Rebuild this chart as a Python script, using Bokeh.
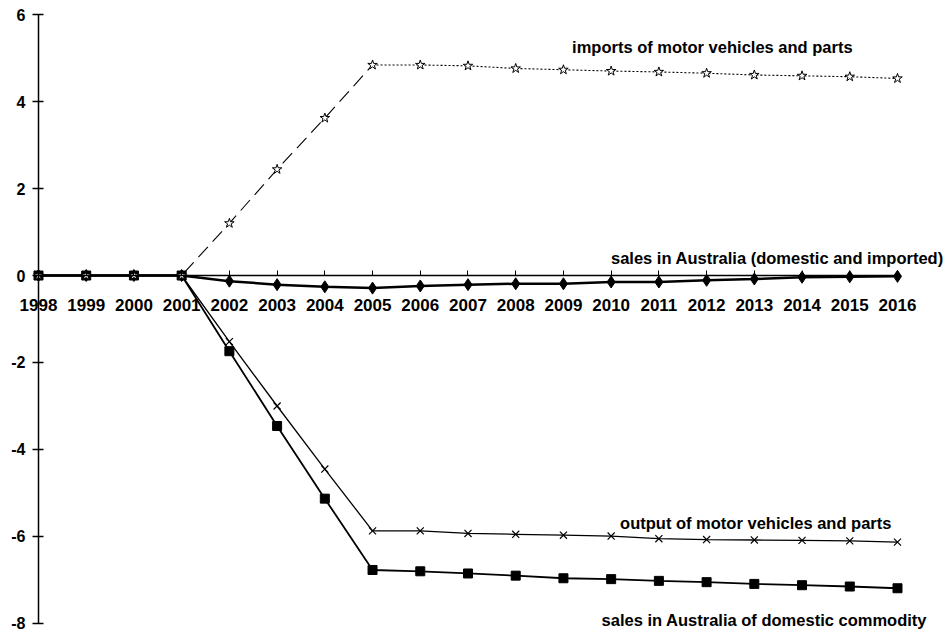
from bokeh.plotting import figure
from bokeh.models import Range1d, LinearAxis, FixedTicker, Label
from bokeh.embed import file_html
from bokeh.resources import INLINE

years = list(range(1998, 2017))
imports_mv = [0, 0, 0, 0, 1.20, 2.44, 3.62, 4.84, 4.84, 4.82, 4.76, 4.73, 4.70, 4.68, 4.65, 4.61, 4.59, 4.57, 4.53]
sales_aus = [0, 0, 0, 0, -0.13, -0.21, -0.26, -0.29, -0.24, -0.21, -0.19, -0.19, -0.15, -0.15, -0.11, -0.08, -0.04, -0.03, -0.02]
output_mv = [0, 0, 0, 0, -1.52, -3.0, -4.45, -5.87, -5.87, -5.93, -5.95, -5.97, -5.99, -6.05, -6.07, -6.08, -6.09, -6.10, -6.13]
sales_dom = [0, 0, 0, 0, -1.74, -3.46, -5.13, -6.77, -6.80, -6.85, -6.90, -6.96, -6.98, -7.02, -7.05, -7.09, -7.12, -7.15, -7.19]
y_ticks = [-8, -6, -4, -2, 0, 2, 4, 6]
label_imports = "imports of motor vehicles and parts"
label_sales = "sales in Australia (domestic and imported)"
label_output = "output of motor vehicles and parts"
label_dom = "sales in Australia of domestic commodity"

FONT = "Liberation Sans"

p = figure(width=946, height=634, output_backend="svg", toolbar_location=None,
           x_range=Range1d(1997.204, 2017.027), y_range=Range1d(-8.253, 6.322),
           x_axis_type=None, y_axis_type=None,
           min_border=0, min_border_left=0, min_border_right=0,
           min_border_top=0, min_border_bottom=0)
p.outline_line_color = None
p.grid.visible = False
p.background_fill_color = "white"
p.border_fill_color = "white"

# y axis at x = 1998
yaxis = LinearAxis(fixed_location=1998, ticker=FixedTicker(ticks=y_ticks), bounds=(-8, 6))
yaxis.axis_line_width = 1.5
yaxis.major_tick_in = 5
yaxis.major_tick_out = 6
yaxis.major_tick_line_width = 1.5
yaxis.minor_tick_line_color = None
yaxis.major_label_standoff = 7
yaxis.major_label_overrides = {t: str(t) for t in y_ticks}
yaxis.major_label_text_font = FONT
yaxis.major_label_text_font_style = "bold"
yaxis.major_label_text_font_size = "16px"
yaxis.major_label_text_color = "black"
p.add_layout(yaxis, "left")

# x axis at y = 0
xaxis = LinearAxis(fixed_location=0, ticker=FixedTicker(ticks=years), bounds=(1998, 2016))
xaxis.axis_line_width = 1.5
xaxis.major_tick_in = 5
xaxis.major_tick_out = 0
xaxis.major_tick_line_width = 1
xaxis.minor_tick_line_color = None
xaxis.major_label_standoff = 23
xaxis.major_label_text_font = FONT
xaxis.major_label_text_font_style = "bold"
xaxis.major_label_text_font_size = "17px"
xaxis.major_label_text_color = "black"
p.add_layout(xaxis, "below")

# domestic sales
p.line(years, sales_dom, line_color="black", line_width=1.8)
p.scatter(years, sales_dom, marker="square", size=9, line_color="black", fill_color="black")

# output
p.line(years, output_mv, line_color="black", line_width=1.3)
p.scatter(years, output_mv, marker="x", size=10, line_color="black", line_width=1.2)

# total sales in Australia
p.line(years, sales_aus, line_color="black", line_width=2.5)
p.scatter(years, sales_aus, marker="diamond", size=12, line_color="black", fill_color="black")

# imports: dashed up to 2005, dotted afterwards
k = years.index(2005)
p.line(years[:k + 1], imports_mv[:k + 1], line_color="black", line_width=1.1, line_dash="14 7")
p.line(years[k:], imports_mv[k:], line_color="black", line_width=1.1, line_dash="2 2")
p.scatter(years, imports_mv, marker="star", size=10, line_color="black", fill_color="white", line_width=1)

def lab(x, y, text, align):
    p.add_layout(Label(x=x, y=y, text=text, text_align=align, text_baseline="middle",
                       text_font=FONT, text_font_style="bold", text_font_size="16.5px",
                       text_color="black"))

lab(2012.12, 5.26, label_imports, "center")
lab(2016.97, 0.41, label_sales, "right")
lab(2013.03, -5.68, label_output, "center")
lab(2013.21, -7.91, label_dom, "center")

open("out.html", "w").write(file_html(p, INLINE))
